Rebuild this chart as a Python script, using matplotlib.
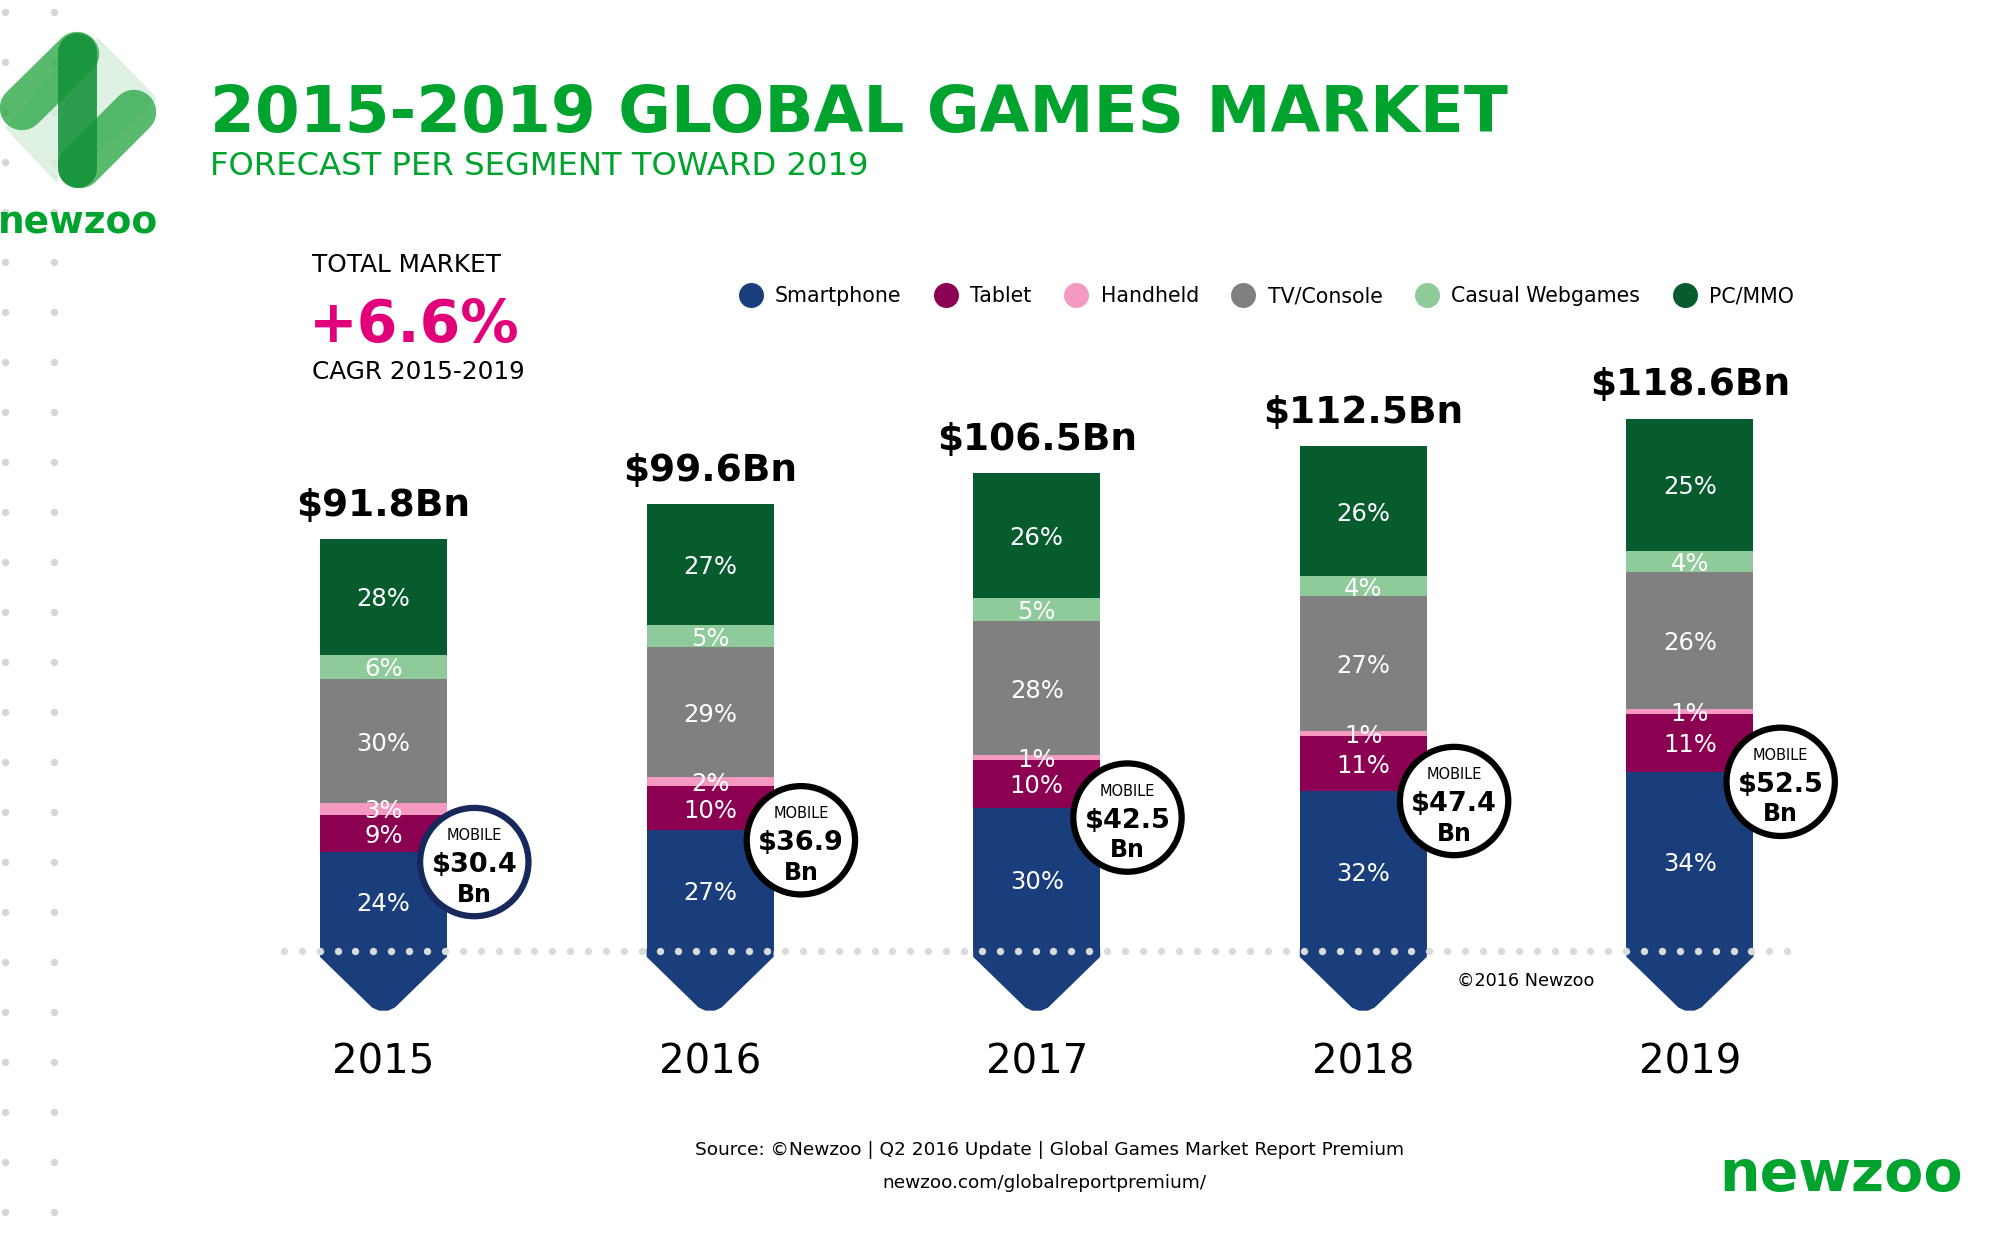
import numpy as np
import matplotlib
matplotlib.use('Agg')
import matplotlib.pyplot as plt
from matplotlib.lines import Line2D
from matplotlib.patches import Polygon

# Data
years = ['2015', '2016', '2017', '2018', '2019']
totals = [91.8, 99.6, 106.5, 112.5, 118.6]          # total market, $Bn
mobile = [30.4, 36.9, 42.5, 47.4, 52.5]             # smartphone + tablet, $Bn
cagr = 6.6

segments = ['Smartphone', 'Tablet', 'Handheld', 'TV/Console', 'Casual Webgames', 'PC/MMO']
smartphone = [24, 27, 30, 32, 34]
tablet = [9, 10, 10, 11, 11]
handheld = [3, 2, 1, 1, 1]
tv_console = [30, 29, 28, 27, 26]
casual = [6, 5, 5, 4, 4]
pc_mmo = [28, 27, 26, 26, 25]

colors = ['#1a3e7c', '#8c0051', '#f49ac1', '#808080', '#8fca9b', '#075c2f']
ring_colors = ['#17295c', 'black', 'black', 'black', 'black']
green = '#00a32e'
magenta = '#e2007a'

W, H = 2016, 1239
fig = plt.figure(figsize=(W / 100, H / 100), dpi=100)

# pixel axes for the decoration (logo, dots, titles)
deco = fig.add_axes([0, 0, 1, 1])
deco.set_xlim(0, W)
deco.set_ylim(H, 0)
deco.axis('off')

# data axes for the bars
ax = fig.add_axes([0, 0, 1, 1])
ax.set_xlim(-1.1742, 4.9985)
ax.set_ylim(-64.21, 212.04)
ax.axis('off')
ax.patch.set_alpha(0)

# dotted column on the left edge
rows = np.arange(12, H, 50)
for cx in (5, 54):
    deco.scatter(np.full(len(rows), cx), rows, s=28, color='#d6d6d6', linewidths=0, zorder=0)

# logo, roughly
deco.add_patch(Polygon([(97, 38), (156, 98), (97, 152)], closed=True, color='#d8eedc', alpha=0.8, zorder=1))
deco.add_patch(Polygon([(57, 70), (57, 182), (6, 128)], closed=True, color='#d8eedc', alpha=0.8, zorder=1))
deco.plot([77, 22], [54, 108], lw=32, solid_capstyle='round', color='#2fa94a', alpha=0.8, zorder=2)
deco.plot([134, 80], [112, 166], lw=32, solid_capstyle='round', color='#2fa94a', alpha=0.8, zorder=2)
deco.plot([77, 77], [52, 168], lw=28, solid_capstyle='round', color='#14923a', alpha=0.9, zorder=3)
deco.text(-2, 233, 'newzoo', fontsize=27, fontweight='bold', color=green, va='baseline', ha='left')

# titles
deco.text(210, 132, '2015-2019 GLOBAL GAMES MARKET', fontsize=46.4, fontweight='bold',
          color=green, va='baseline', ha='left')
deco.text(210, 175, 'FORECAST PER SEGMENT TOWARD 2019', fontsize=23.2, color=green,
          va='baseline', ha='left')

deco.text(312, 272, 'TOTAL MARKET', fontsize=17.8, va='baseline', ha='left')
deco.text(309, 342, f'+{cagr:.1f}%', fontsize=42, fontweight='bold', color=magenta,
          va='baseline', ha='left')
deco.text(312, 379, 'CAGR 2015-2019', fontsize=17.8, va='baseline', ha='left')

# stacked bars, segment shares scaled to each year's total
x = np.arange(len(years))
shares = np.array([smartphone, tablet, handheld, tv_console, casual, pc_mmo], dtype=float)
values = shares / shares.sum(axis=0) * np.array(totals)
bw = 0.389
bottom = np.zeros(len(years))
for k, seg in enumerate(segments):
    ax.bar(x, values[k], bw, bottom=bottom, color=colors[k], linewidth=0, zorder=2)
    for i in range(len(years)):
        ax.text(x[i], bottom[i] + values[k][i] / 2, f'{shares[k][i]:.0f}%', ha='center',
                va='center_baseline', color='white', fontsize=17.5, zorder=4)
    bottom += values[k]

# arrow tip under each bar
for cx in x:
    pts = [(cx - bw / 2, 0.5), (cx + bw / 2, 0.5), (cx + bw / 2, -1.3), (cx + 0.035, -12.6),
           (cx + 0.014, -13.3), (cx - 0.014, -13.3), (cx - 0.035, -12.6), (cx - bw / 2, -1.3)]
    ax.add_patch(Polygon(pts, closed=True, facecolor=colors[0], edgecolor='none', zorder=2))

# dotted baseline
dots_x = np.arange(-0.305, 4.31, 0.0548)
ax.scatter(dots_x, np.zeros(len(dots_x)), s=28, color='#dadada', linewidths=0, zorder=3)

# totals and years
for i, t in enumerate(totals):
    ax.text(x[i], t + 5.3, f'\\${t:.1f}Bn', ha='center', va='baseline', fontsize=27,
            fontweight='bold', color='black')
    ax.text(x[i], -27.2, years[i], ha='center', va='baseline', fontsize=29, color='black')

# mobile circles
cx_m = x + 0.278
cy_m = values[0] - 2.2
ax.scatter(cx_m, cy_m, s=78 ** 2, facecolor='white', edgecolors=ring_colors, linewidths=4.5, zorder=5)
for i in range(len(years)):
    ax.annotate('MOBILE', (cx_m[i], cy_m[i]), xytext=(0, 20.2), textcoords='offset points',
                ha='center', va='center_baseline', fontsize=10.5, zorder=6)
    ax.annotate(f'\\${mobile[i]:.1f}', (cx_m[i], cy_m[i]), xytext=(0, 0), textcoords='offset points',
                ha='center', va='center_baseline', fontsize=19.5, fontweight='bold', zorder=6)
    ax.annotate('Bn', (cx_m[i], cy_m[i]), xytext=(0, -21.6), textcoords='offset points',
                ha='center', va='center_baseline', fontsize=17, fontweight='bold', zorder=6)

# legend
handles = [Line2D([], [], marker='o', linestyle='none', markersize=18, markerfacecolor=c,
                  markeredgewidth=0) for c in colors]
fig.legend(handles, segments, loc='center', bbox_to_anchor=(1266 / W, 1 - 296 / H), ncol=6,
           frameon=False, fontsize=14.8, handlelength=1.25, handletextpad=0.55,
           columnspacing=1.55, borderpad=0, borderaxespad=0)

# footer texts
deco.text(1457, 986, '©2016 Newzoo', fontsize=12.7, va='baseline', ha='left')
deco.text(1050, 1155, 'Source: ©Newzoo | Q2 2016 Update | Global Games Market Report Premium',
          fontsize=13.3, va='baseline', ha='center')
deco.text(1044, 1188, 'newzoo.com/globalreportpremium/', fontsize=13.3, va='baseline', ha='center')
deco.text(1963, 1191, 'newzoo', fontsize=41, fontweight='bold', color=green, va='baseline', ha='right')

fig.savefig('out.png', dpi=100, facecolor='white')
